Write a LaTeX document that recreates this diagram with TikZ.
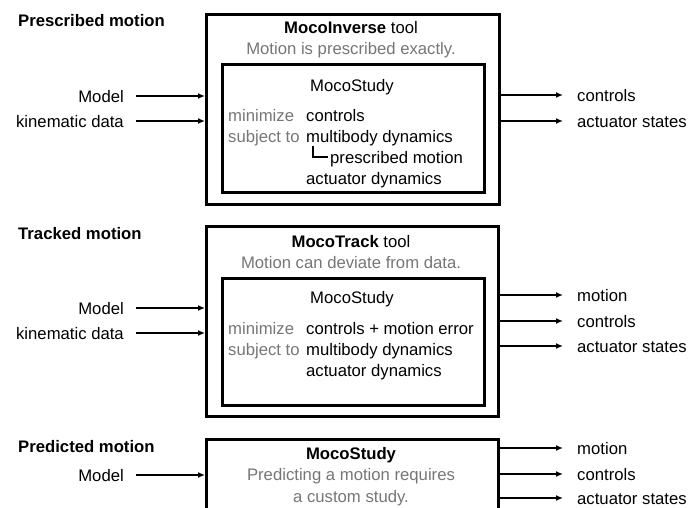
\documentclass[tikz,border=0pt]{standalone}
\usepackage{fontspec}
\setmainfont{Liberation Sans}
\usetikzlibrary{arrows.meta}
\definecolor{notegray}{RGB}{118,118,118}
\begin{document}
\begin{tikzpicture}[x=1pt,y=-1pt,
  txt/.style={inner sep=0pt,text height=12pt,text depth=0pt,font=\fontsize{16.7}{20}\selectfont},
  note/.style={txt,text=notegray},
  head/.style={txt,anchor=west,font=\fontsize{16.7}{20}\selectfont\bfseries},
  toolbox/.style={draw,line width=3pt,inner sep=0pt,anchor=north west},
  arr/.style={-{Latex[length=7pt,width=6pt]},line width=1.5pt}]
  \useasboundingbox (0,0) rectangle (688,507);
  \clip (0,0) rectangle (688,507);
  \node[toolbox,minimum width=293pt,minimum height=190pt] (inv) at (205,13) {};
  \node[toolbox,minimum width=262pt,minimum height=128pt] (invs) at (221,63) {};
  \node[toolbox,minimum width=292pt,minimum height=190pt] (trk) at (205,225) {};
  \node[toolbox,minimum width=262pt,minimum height=127pt] (trks) at (221,277) {};
  \node[toolbox,minimum width=292pt,minimum height=90pt] (pred) at (205,438) {};
  \node[head] (h1) at (18,20) {Prescribed motion};
  \node[head] (h2) at (18,233) {Tracked motion};
  \node[head] (h3) at (18,446) {Predicted motion};
  \node[txt] (t1) at (351,27) {\textbf{MocoInverse} tool};
  \node[note] (n1) at (351,48) {Motion is prescribed exactly.};
  \node[txt] (s1) at (352,85) {MocoStudy};
  \node[note,anchor=west] (m1) at (228,115) {minimize};
  \node[txt,anchor=west] (c1) at (306,115) {controls};
  \node[note,anchor=west] (j1) at (228,136) {subject to};
  \node[txt,anchor=west] (d1) at (306,136) {multibody dynamics};
  \draw[line width=1.5pt] (313,146) |- (328,157);
  \node[txt,anchor=west] (p1) at (330,157) {prescribed motion};
  \node[txt,anchor=west] (a1) at (306,178) {actuator dynamics};
  \node[txt] (t2) at (351,241) {\textbf{MocoTrack} tool};
  \node[note] (n2) at (351,262) {Motion can deviate from data.};
  \node[txt] (s2) at (352,297) {MocoStudy};
  \node[note,anchor=west] (m2) at (228,328) {minimize};
  \node[txt,anchor=west] (c2) at (306,328) {controls + motion error};
  \node[note,anchor=west] (j2) at (228,349) {subject to};
  \node[txt,anchor=west] (d2) at (306,349) {multibody dynamics};
  \node[txt,anchor=west] (a2) at (306,370) {actuator dynamics};
  \node[txt] (t3) at (351,453) {\textbf{MocoStudy}};
  \node[note] (n3) at (351,474) {Predicting a motion requires};
  \node[note] (n4) at (351,496) {a custom study.};
  \node[txt,anchor=east] (i1) at (124,96) {Model};
  \node[txt,anchor=east] (i2) at (124,121) {kinematic data};
  \node[txt,anchor=east] (i3) at (124,308) {Model};
  \node[txt,anchor=east] (i4) at (124,333) {kinematic data};
  \node[txt,anchor=east] (i5) at (124,475) {Model};
  \node[txt,anchor=west] (o1) at (577,95) {controls};
  \node[txt,anchor=west] (o2) at (577,121) {actuator states};
  \node[txt,anchor=west] (o3) at (577,295) {motion};
  \node[txt,anchor=west] (o4) at (577,321) {controls};
  \node[txt,anchor=west] (o5) at (577,346) {actuator states};
  \node[txt,anchor=west] (o6) at (577,448) {motion};
  \node[txt,anchor=west] (o7) at (577,474) {controls};
  \node[txt,anchor=west] (o8) at (577,498) {actuator states};
  \draw[arr] ([xshift=12pt]i1.east) -- (i1 -| inv.west);
  \draw[arr] ([xshift=12pt]i2.east) -- (i2 -| inv.west);
  \draw[arr] ([xshift=12pt]i3.east) -- (i3 -| trk.west);
  \draw[arr] ([xshift=12pt]i4.east) -- (i4 -| trk.west);
  \draw[arr] ([xshift=12pt]i5.east) -- (i5 -| pred.west);
  \draw[arr] (o1 -| inv.east) -- ([xshift=-14pt]o1.west);
  \draw[arr] (o2 -| inv.east) -- ([xshift=-14pt]o2.west);
  \draw[arr] (o3 -| trk.east) -- ([xshift=-14pt]o3.west);
  \draw[arr] (o4 -| trk.east) -- ([xshift=-14pt]o4.west);
  \draw[arr] (o5 -| trk.east) -- ([xshift=-14pt]o5.west);
  \draw[arr] (o6 -| pred.east) -- ([xshift=-14pt]o6.west);
  \draw[arr] (o7 -| pred.east) -- ([xshift=-14pt]o7.west);
  \draw[arr] (o8 -| pred.east) -- ([xshift=-14pt]o8.west);
\end{tikzpicture}
\end{document}
